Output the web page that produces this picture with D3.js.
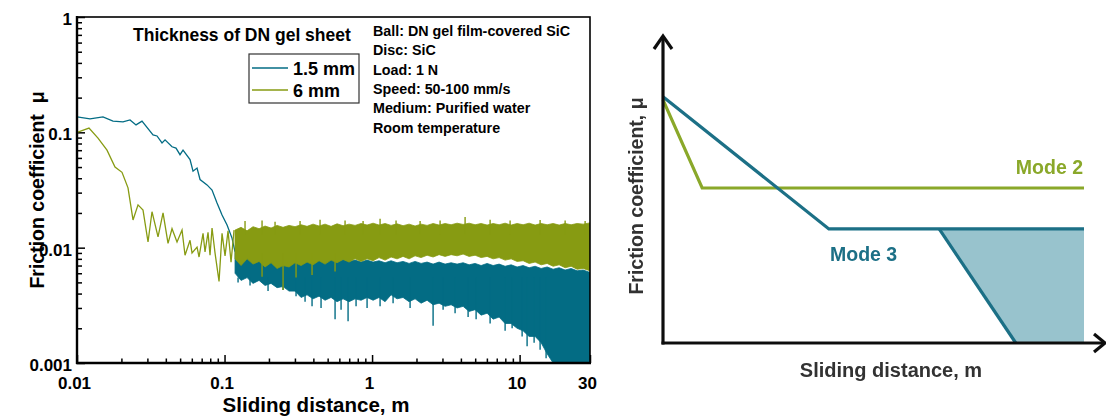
<!DOCTYPE html>
<html><head><meta charset="utf-8">
<script src="https://cdn.jsdelivr.net/npm/d3@7/dist/d3.min.js"></script>
<style>
body{margin:0;background:#fff}
svg{display:block}
text{font-family:"Liberation Sans",Arial,Helvetica,sans-serif;font-weight:bold}
</style>
</head><body>
<svg id="c" width="1106" height="417"></svg>
<script>
// ---------------- Left chart data ----------------
const xTickValues = [0.01, 0.1, 1, 10, 30];
const xTickLabels = ["0.01", "0.1", "1", "10", "30"];
const yTickValues = [0.001, 0.01, 0.1, 1];
const yTickLabels = ["0.001", "0.01", "0.1", "1"];
const seriesNames = ["1.5 mm", "6 mm"];
const seriesColors = ["#036c84", "#879b12"];

// early (resolved) part of the 1.5 mm curve
const thinDist = [0.0100,0.01225,0.0150,0.01754,0.02051,0.02288,0.02512,0.02758,0.03275,0.03486,0.03770,0.03951,0.04406,0.04689,0.04992,0.05232,0.05836,0.06115,0.06511,0.06823,0.07610,0.08227,0.08896,0.09618,0.1040,0.1124,0.1178];
const thinMu   = [0.136,0.131,0.136,0.125,0.123,0.128,0.116,0.125,0.095,0.093,0.081,0.086,0.075,0.073,0.064,0.070,0.058,0.046,0.049,0.039,0.035,0.0316,0.0244,0.0192,0.0157,0.0121,0.0092];

// early (resolved) part of the 6 mm curve
const thickDist = [0.0100,0.01206,0.01388,0.01597,0.01810,0.02019,0.02217,0.02397,0.02592,0.02802,0.03030,0.03224,0.03542,0.03830,0.04140,0.04406,0.04764,0.05151,0.05398,0.05836,0.06021,0.06511,0.06717,0.07150,0.07375,0.07729,0.07973,0.08227,0.08620,0.09177,0.09618,0.1008,0.1056,0.1107,0.1160];
const thickMu   = [0.100,0.109,0.089,0.070,0.050,0.045,0.033,0.0174,0.0235,0.0212,0.0112,0.0205,0.0124,0.0200,0.0109,0.0146,0.0112,0.0142,0.0086,0.0116,0.0090,0.0101,0.0083,0.0133,0.0092,0.0136,0.0086,0.0148,0.0090,0.0051,0.0133,0.0085,0.0140,0.0075,0.0142];

// dense noisy part: band envelopes
const bandDist = [0.1178,0.1294,0.1421,0.1560,0.1714,0.1882,0.2067,0.2270,0.2492,0.2737,0.3006,0.3301,0.3625,0.3981,0.4372,0.4801,0.5273,0.5790,0.6359,0.6983,0.7668,0.8421,0.9250,1.016,1.115,1.225,1.345,1.477,1.622,1.782,1.957,2.149,2.360,2.592,2.846,3.126,3.433,3.770,4.140,4.547,4.993,5.483,6.021,6.613,7.262,7.975,8.758,9.617,10.56,11.60,12.74,13.99,15.37,16.87,18.53,20.35,22.35,24.54,26.95,30];
const thickUpper = [0.0142,0.0150,0.0140,0.0152,0.0146,0.0154,0.0148,0.0156,0.0150,0.0156,0.0152,0.0158,0.0153,0.0160,0.0154,0.0160,0.0153,0.0161,0.0155,0.0160,0.0156,0.0162,0.0157,0.0163,0.0157,0.0162,0.0156,0.0161,0.0155,0.0160,0.0154,0.0160,0.0156,0.0162,0.0157,0.0162,0.0158,0.0163,0.0159,0.0163,0.0158,0.0162,0.0157,0.0162,0.0158,0.0163,0.0157,0.0162,0.0158,0.0163,0.0157,0.0162,0.0158,0.0162,0.0157,0.0162,0.0158,0.0162,0.0160,0.0164];
const thickLower = [0.0080,0.0070,0.0080,0.0072,0.0076,0.0068,0.0074,0.0066,0.0070,0.0068,0.0074,0.0070,0.0075,0.0071,0.0077,0.0072,0.0078,0.0074,0.0079,0.0075,0.0080,0.0076,0.0080,0.0077,0.0082,0.0078,0.0083,0.0080,0.0084,0.0080,0.0085,0.0082,0.0086,0.0083,0.0087,0.0084,0.0087,0.0085,0.0088,0.0084,0.0086,0.0082,0.0084,0.0080,0.0082,0.0078,0.0080,0.0076,0.0077,0.0073,0.0075,0.0071,0.0073,0.0069,0.0071,0.0067,0.0069,0.0065,0.0066,0.0063];
const thinUpper = [0.0092,0.0082,0.0084,0.0079,0.0082,0.0078,0.0081,0.0077,0.0080,0.0077,0.0079,0.0076,0.0080,0.0077,0.0080,0.0077,0.0080,0.0076,0.0079,0.0076,0.0078,0.0075,0.0078,0.0075,0.0077,0.0074,0.0077,0.0074,0.0076,0.0073,0.0076,0.0073,0.0075,0.0072,0.0075,0.0072,0.0074,0.0072,0.0074,0.0071,0.0073,0.0070,0.0073,0.0070,0.0072,0.0069,0.0071,0.0068,0.0070,0.0067,0.0069,0.0066,0.0068,0.0065,0.0067,0.0064,0.0066,0.0063,0.0064,0.0061];
const thinLower = [0.0060,0.0052,0.0055,0.0049,0.0052,0.0047,0.0049,0.0045,0.0046,0.0042,0.0042,0.0037,0.0039,0.0036,0.0038,0.0035,0.0037,0.0034,0.0036,0.0034,0.0036,0.0035,0.0037,0.0035,0.0037,0.0034,0.0039,0.0036,0.0037,0.0034,0.0036,0.0033,0.0035,0.0032,0.0033,0.0031,0.0032,0.0030,0.0031,0.0028,0.0029,0.0026,0.0027,0.0024,0.0025,0.0022,0.0022,0.0020,0.0019,0.0017,0.0017,0.0015,0.0012,0.0010,0.0009,0.0008,0.0007,0.0007,0.0007,0.0007];

// individual noise spikes that stick out of the bands
const thinSpikeDist = [0.1235,0.1489,0.1972,0.2493,0.3053,0.3514,0.3919,0.4510,0.5613,0.6164,0.6876,0.7789,0.9250,1.133,1.388,1.810,2.592,3.030,3.653,4.476,5.072,6.310,7.975,8.897,10.40,11.24,12.54,13.77,15.12];
const thinSpikeMu   = [0.0050,0.0047,0.0042,0.0043,0.0038,0.0034,0.0031,0.0030,0.0024,0.0029,0.0023,0.0031,0.0030,0.0031,0.0033,0.0030,0.0021,0.0029,0.0027,0.0025,0.0024,0.0022,0.0019,0.0020,0.0017,0.0014,0.0015,0.0013,0.0011];
const thickSpikeDist = [0.1377,0.1796,0.2200,0.3250,0.4440,0.6560,0.8690,1.133,1.454,2.116,2.891,4.271,6.310,8.620,13.77,20.35,27.8];
const thickSpikeMu   = [0.0170,0.0172,0.0168,0.0170,0.0175,0.0172,0.0170,0.0178,0.0172,0.0170,0.0172,0.0184,0.0175,0.0172,0.0174,0.0172,0.0170];
const thickDipDist = [0.1796,0.2493,0.3053,0.3919,0.5613];
const thickDipMu   = [0.0056,0.0043,0.0055,0.0058,0.0062];

const annotLines = ["Ball: DN gel film-covered SiC","Disc: SiC","Load: 1 N","Speed: 50-100 mm/s","Medium: Purified water","Room temperature"];

// ---------------- Right (schematic) chart data ----------------
const mode2Dist = [0, 0.093, 1];
const mode2Mu   = [0.784, 0.5, 0.5];
const mode3Dist = [0, 0.394, 1];
const mode3Mu   = [0.794, 0.368, 0.368];
const wearDist  = [0.656, 1, 1, 0.838];
const wearMu    = [0.368, 0.368, 0, 0];
const modeColors = {mode2: "#8aa829", mode3: "#1b6f86", shade: "#98c3cd"};

// =====================================================
const svg = d3.select("#c");
const font = '"Liberation Sans",Arial,sans-serif';

// ---------- Left chart ----------
const L = {left: 77, right: 590, top: 17, bottom: 363};
const x = d3.scaleLog().domain([0.01, 30]).range([L.left, L.right]);
const y = d3.scaleLog().domain([0.001, 1]).range([L.bottom, L.top]);

const left = svg.append("g");
left.append("defs").append("clipPath").attr("id", "clipL")
  .append("rect").attr("x", L.left).attr("y", L.top)
  .attr("width", L.right - L.left).attr("height", L.bottom - L.top);

// minor ticks
const xMinor = x.ticks().filter(v => !xTickValues.some(t => Math.abs(t - v) / t < 1e-6));
const yMinor = y.ticks().filter(v => !yTickValues.some(t => Math.abs(t - v) / t < 1e-6));

const gx = left.append("g").attr("transform", `translate(0,${L.bottom})`);
gx.call(d3.axisBottom(x).tickValues(xMinor).tickSize(-4.5).tickSizeOuter(0).tickFormat(""));
gx.select(".domain").remove();
const gx2 = left.append("g").attr("transform", `translate(0,${L.bottom})`);
gx2.call(d3.axisBottom(x).tickValues(xTickValues).tickSize(-8).tickSizeOuter(0)
  .tickPadding(14).tickFormat((d, i) => xTickLabels[i]));
gx2.select(".domain").remove();
gx2.selectAll("text").attr("font-size", 17).attr("font-family", font).attr("font-weight", "bold")
  .attr("fill", "#000").attr("dx", -3);

const gy = left.append("g").attr("transform", `translate(${L.left},0)`);
gy.call(d3.axisLeft(y).tickValues(yMinor).tickSize(-5).tickSizeOuter(0).tickFormat(""));
gy.select(".domain").remove();
const gy2 = left.append("g").attr("transform", `translate(${L.left},0)`);
gy2.call(d3.axisLeft(y).tickValues(yTickValues).tickSize(-8).tickSizeOuter(0)
  .tickPadding(5).tickFormat((d, i) => yTickLabels[i]));
gy2.select(".domain").remove();
gy2.selectAll("text").attr("font-size", 17).attr("font-family", font).attr("font-weight", "bold")
  .attr("fill", "#000").attr("dy", "0.45em");
left.selectAll(".tick line").attr("stroke", "#000").attr("stroke-width", 1.5);

// data
const dataG = left.append("g").attr("clip-path", "url(#clipL)");
const band = (upper, lower) => d3.area()
  .x((d, i) => x(bandDist[i])).y0((d, i) => y(lower[i])).y1((d, i) => y(upper[i]));
const lineGen = (xs, ys) => d3.line().x((d, i) => x(xs[i])).y((d, i) => y(ys[i]));
const spikes = (g, xs, ys, base, color) => g.selectAll(null).data(xs).join("line")
  .attr("x1", (d, i) => x(xs[i])).attr("x2", (d, i) => x(xs[i]))
  .attr("y1", (d, i) => y(ys[i])).attr("y2", y(base))
  .attr("stroke", color).attr("stroke-width", 1.4);

// 1.5 mm
dataG.append("path").datum(bandDist).attr("d", band(thinUpper, thinLower))
  .attr("fill", seriesColors[0]).attr("stroke", seriesColors[0]).attr("stroke-width", 0.8);
spikes(dataG.append("g"), thinSpikeDist, thinSpikeMu, 0.0055, seriesColors[0]);
dataG.append("path").datum(thinDist).attr("d", lineGen(thinDist, thinMu))
  .attr("fill", "none").attr("stroke", seriesColors[0]).attr("stroke-width", 1.3);
// 6 mm (on top)
dataG.append("path").datum(bandDist).attr("d", band(thickUpper, thickLower))
  .attr("fill", seriesColors[1]).attr("stroke", seriesColors[1]).attr("stroke-width", 0.8);
spikes(dataG.append("g"), thickSpikeDist, thickSpikeMu, 0.0130, seriesColors[1]);
spikes(dataG.append("g"), thickDipDist, thickDipMu, 0.0090, seriesColors[1]);
dataG.append("path").datum(thickDist).attr("d", lineGen(thickDist, thickMu))
  .attr("fill", "none").attr("stroke", seriesColors[1]).attr("stroke-width", 1.3);

// frame
left.append("rect").attr("x", L.left).attr("y", L.top)
  .attr("width", L.right - L.left).attr("height", L.bottom - L.top)
  .attr("fill", "none").attr("stroke", "#000").attr("stroke-width", 1.6);
left.append("line").attr("x1", L.left).attr("x2", L.left).attr("y1", L.top - 1).attr("y2", L.bottom + 1)
  .attr("stroke", "#000").attr("stroke-width", 2.4);
left.append("line").attr("x1", L.left - 1).attr("x2", L.right + 1).attr("y1", L.bottom).attr("y2", L.bottom)
  .attr("stroke", "#000").attr("stroke-width", 2.4);

// axis titles
left.append("text").attr("x", 316).attr("y", 412).attr("text-anchor", "middle")
  .attr("font-size", 20.5).text("Sliding distance, m");
left.append("text").attr("transform", "translate(44,190) rotate(-90)").attr("text-anchor", "middle")
  .attr("font-size", 19.5).attr("xml:space", "preserve").text("Friction coefficient  \u03bc");

// title + legend
left.append("text").attr("x", 133).attr("y", 41).attr("font-size", 17.5).text("Thickness of DN gel sheet");
left.append("rect").attr("x", 249).attr("y", 54).attr("width", 110).attr("height", 49)
  .attr("fill", "#fff").attr("stroke", "#333").attr("stroke-width", 1.2);
seriesNames.forEach((n, i) => {
  const yy = 68 + i * 22;
  left.append("line").attr("x1", 252).attr("x2", 288).attr("y1", yy).attr("y2", yy)
    .attr("stroke", seriesColors[i]).attr("stroke-width", 1.3);
  left.append("text").attr("x", 293).attr("y", yy + 6.5).attr("font-size", 18).text(n);
});

// annotation
annotLines.forEach((t, i) => {
  left.append("text").attr("x", 373).attr("y", 36 + i * 19.3).attr("font-size", 14.3).text(t);
});

// ---------- Right chart ----------
const R = {left: 663, right: 1084, top: 33, bottom: 343};
const rx = d3.scaleLinear().domain([0, 1]).range([R.left, R.right]);
const ry = d3.scaleLinear().domain([0, 1]).range([R.bottom, R.top]);
const defs = svg.append("defs");
defs.append("filter").attr("id", "soft").append("feGaussianBlur").attr("stdDeviation", 0.7);
const right = svg.append("g").attr("filter", "url(#soft)");

const rline = (xs, ys) => d3.line().x((d, i) => rx(xs[i])).y((d, i) => ry(ys[i]));
right.append("path").datum(wearDist).attr("d", d => rline(wearDist, wearMu)(d) + "Z")
  .attr("fill", modeColors.shade).attr("stroke", "none");
right.append("path").datum(mode2Dist).attr("d", rline(mode2Dist, mode2Mu))
  .attr("fill", "none").attr("stroke", modeColors.mode2).attr("stroke-width", 3.2);
right.append("path").datum(mode3Dist).attr("d", rline(mode3Dist, mode3Mu))
  .attr("fill", "none").attr("stroke", modeColors.mode3).attr("stroke-width", 3.2);
const wearEdgeDist = [wearDist[0], wearDist[3]];
const wearEdgeMu = [wearMu[0], wearMu[3]];
right.append("path").datum(wearEdgeDist).attr("d", rline(wearEdgeDist, wearEdgeMu))
  .attr("fill", "none").attr("stroke", modeColors.mode3).attr("stroke-width", 3.2);

// axes with arrows
right.append("line").attr("x1", R.left).attr("x2", R.left).attr("y1", 36).attr("y2", R.bottom + 1.5)
  .attr("stroke", "#111").attr("stroke-width", 3.2);
right.append("path").attr("d", `M${R.left - 9},49 L${R.left},36 L${R.left + 9},49`)
  .attr("fill", "none").attr("stroke", "#111").attr("stroke-width", 3.2);
right.append("line").attr("x1", R.left - 1.5).attr("x2", 1104).attr("y1", R.bottom).attr("y2", R.bottom)
  .attr("stroke", "#111").attr("stroke-width", 3.2);
right.append("path").attr("d", `M1094,334 L1105,${R.bottom} L1094,352`)
  .attr("fill", "none").attr("stroke", "#111").attr("stroke-width", 3.2);

right.append("text").attr("x", 1083).attr("y", 174).attr("text-anchor", "end")
  .attr("font-size", 19.5).attr("fill", modeColors.mode2).text("Mode 2");
right.append("text").attr("x", 830).attr("y", 261)
  .attr("font-size", 19.5).attr("fill", modeColors.mode3).text("Mode 3");
right.append("text").attr("x", 891).attr("y", 377).attr("text-anchor", "middle")
  .attr("font-size", 20).attr("fill", "#333").text("Sliding distance, m");
right.append("text").attr("transform", "translate(643,196) rotate(-90)").attr("text-anchor", "middle")
  .attr("font-size", 19.5).attr("fill", "#333").text("Friction coefficient, \u03bc");
</script>
</body></html>
